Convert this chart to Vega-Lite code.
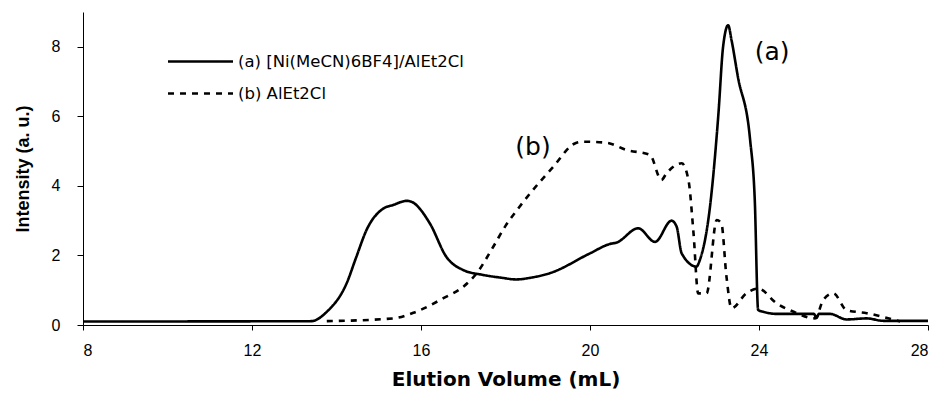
{
  "$schema": "https://vega.github.io/schema/vega-lite/v6.json",
  "width": 845,
  "height": 313,
  "autosize": {"type": "none"},
  "padding": {"left": 83, "top": 12, "right": 11, "bottom": 70},
  "background": "white",
  "config": {
    "view": {"stroke": null},
    "font": "Liberation Sans"
  },
  "datasets": {
    "curves": [
      {"v": 8.0, "i": 0.1, "s": "(a) [Ni(MeCN)6BF4]/AlEt2Cl"},
      {"v": 13.4, "i": 0.11, "s": "(a) [Ni(MeCN)6BF4]/AlEt2Cl"},
      {"v": 13.77, "i": 0.38, "s": "(a) [Ni(MeCN)6BF4]/AlEt2Cl"},
      {"v": 14.24, "i": 1.2, "s": "(a) [Ni(MeCN)6BF4]/AlEt2Cl"},
      {"v": 14.47, "i": 1.96, "s": "(a) [Ni(MeCN)6BF4]/AlEt2Cl"},
      {"v": 14.71, "i": 2.73, "s": "(a) [Ni(MeCN)6BF4]/AlEt2Cl"},
      {"v": 15.11, "i": 3.35, "s": "(a) [Ni(MeCN)6BF4]/AlEt2Cl"},
      {"v": 15.34, "i": 3.45, "s": "(a) [Ni(MeCN)6BF4]/AlEt2Cl"},
      {"v": 15.66, "i": 3.57, "s": "(a) [Ni(MeCN)6BF4]/AlEt2Cl"},
      {"v": 15.78, "i": 3.54, "s": "(a) [Ni(MeCN)6BF4]/AlEt2Cl"},
      {"v": 16.21, "i": 2.92, "s": "(a) [Ni(MeCN)6BF4]/AlEt2Cl"},
      {"v": 16.6, "i": 1.96, "s": "(a) [Ni(MeCN)6BF4]/AlEt2Cl"},
      {"v": 17.0, "i": 1.58, "s": "(a) [Ni(MeCN)6BF4]/AlEt2Cl"},
      {"v": 17.47, "i": 1.44, "s": "(a) [Ni(MeCN)6BF4]/AlEt2Cl"},
      {"v": 17.9, "i": 1.36, "s": "(a) [Ni(MeCN)6BF4]/AlEt2Cl"},
      {"v": 18.25, "i": 1.31, "s": "(a) [Ni(MeCN)6BF4]/AlEt2Cl"},
      {"v": 18.6, "i": 1.36, "s": "(a) [Ni(MeCN)6BF4]/AlEt2Cl"},
      {"v": 19.05, "i": 1.49, "s": "(a) [Ni(MeCN)6BF4]/AlEt2Cl"},
      {"v": 20.0, "i": 2.06, "s": "(a) [Ni(MeCN)6BF4]/AlEt2Cl"},
      {"v": 20.47, "i": 2.33, "s": "(a) [Ni(MeCN)6BF4]/AlEt2Cl"},
      {"v": 20.63, "i": 2.37, "s": "(a) [Ni(MeCN)6BF4]/AlEt2Cl"},
      {"v": 21.14, "i": 2.78, "s": "(a) [Ni(MeCN)6BF4]/AlEt2Cl"},
      {"v": 21.54, "i": 2.39, "s": "(a) [Ni(MeCN)6BF4]/AlEt2Cl"},
      {"v": 21.93, "i": 3.0, "s": "(a) [Ni(MeCN)6BF4]/AlEt2Cl"},
      {"v": 22.05, "i": 2.83, "s": "(a) [Ni(MeCN)6BF4]/AlEt2Cl"},
      {"v": 22.17, "i": 2.06, "s": "(a) [Ni(MeCN)6BF4]/AlEt2Cl"},
      {"v": 22.52, "i": 1.68, "s": "(a) [Ni(MeCN)6BF4]/AlEt2Cl"},
      {"v": 22.6, "i": 1.87, "s": "(a) [Ni(MeCN)6BF4]/AlEt2Cl"},
      {"v": 22.84, "i": 3.4, "s": "(a) [Ni(MeCN)6BF4]/AlEt2Cl"},
      {"v": 23.04, "i": 6.08, "s": "(a) [Ni(MeCN)6BF4]/AlEt2Cl"},
      {"v": 23.15, "i": 8.0, "s": "(a) [Ni(MeCN)6BF4]/AlEt2Cl"},
      {"v": 23.27, "i": 8.62, "s": "(a) [Ni(MeCN)6BF4]/AlEt2Cl"},
      {"v": 23.35, "i": 8.19, "s": "(a) [Ni(MeCN)6BF4]/AlEt2Cl"},
      {"v": 23.5, "i": 7.14, "s": "(a) [Ni(MeCN)6BF4]/AlEt2Cl"},
      {"v": 23.79, "i": 5.32, "s": "(a) [Ni(MeCN)6BF4]/AlEt2Cl"},
      {"v": 23.9, "i": 3.59, "s": "(a) [Ni(MeCN)6BF4]/AlEt2Cl"},
      {"v": 23.98, "i": 0.43, "s": "(a) [Ni(MeCN)6BF4]/AlEt2Cl"},
      {"v": 24.1, "i": 0.38, "s": "(a) [Ni(MeCN)6BF4]/AlEt2Cl"},
      {"v": 24.42, "i": 0.32, "s": "(a) [Ni(MeCN)6BF4]/AlEt2Cl"},
      {"v": 25.3, "i": 0.32, "s": "(a) [Ni(MeCN)6BF4]/AlEt2Cl"},
      {"v": 25.36, "i": 0.2, "s": "(a) [Ni(MeCN)6BF4]/AlEt2Cl"},
      {"v": 25.42, "i": 0.32, "s": "(a) [Ni(MeCN)6BF4]/AlEt2Cl"},
      {"v": 25.68, "i": 0.32, "s": "(a) [Ni(MeCN)6BF4]/AlEt2Cl"},
      {"v": 26.07, "i": 0.16, "s": "(a) [Ni(MeCN)6BF4]/AlEt2Cl"},
      {"v": 26.55, "i": 0.19, "s": "(a) [Ni(MeCN)6BF4]/AlEt2Cl"},
      {"v": 26.94, "i": 0.12, "s": "(a) [Ni(MeCN)6BF4]/AlEt2Cl"},
      {"v": 28.0, "i": 0.12, "s": "(a) [Ni(MeCN)6BF4]/AlEt2Cl"},
      {"v": 13.77, "i": 0.11, "s": "(b) AlEt2Cl"},
      {"v": 15.34, "i": 0.19, "s": "(b) AlEt2Cl"},
      {"v": 15.82, "i": 0.35, "s": "(b) AlEt2Cl"},
      {"v": 16.53, "i": 0.77, "s": "(b) AlEt2Cl"},
      {"v": 17.0, "i": 1.1, "s": "(b) AlEt2Cl"},
      {"v": 17.32, "i": 1.49, "s": "(b) AlEt2Cl"},
      {"v": 17.71, "i": 2.25, "s": "(b) AlEt2Cl"},
      {"v": 18.0, "i": 2.85, "s": "(b) AlEt2Cl"},
      {"v": 18.3, "i": 3.35, "s": "(b) AlEt2Cl"},
      {"v": 18.58, "i": 3.78, "s": "(b) AlEt2Cl"},
      {"v": 19.13, "i": 4.55, "s": "(b) AlEt2Cl"},
      {"v": 19.64, "i": 5.22, "s": "(b) AlEt2Cl"},
      {"v": 19.84, "i": 5.27, "s": "(b) AlEt2Cl"},
      {"v": 20.39, "i": 5.24, "s": "(b) AlEt2Cl"},
      {"v": 20.87, "i": 5.03, "s": "(b) AlEt2Cl"},
      {"v": 21.42, "i": 4.89, "s": "(b) AlEt2Cl"},
      {"v": 21.69, "i": 4.17, "s": "(b) AlEt2Cl"},
      {"v": 21.81, "i": 4.36, "s": "(b) AlEt2Cl"},
      {"v": 22.17, "i": 4.65, "s": "(b) AlEt2Cl"},
      {"v": 22.33, "i": 4.17, "s": "(b) AlEt2Cl"},
      {"v": 22.45, "i": 2.64, "s": "(b) AlEt2Cl"},
      {"v": 22.56, "i": 0.91, "s": "(b) AlEt2Cl"},
      {"v": 22.76, "i": 0.91, "s": "(b) AlEt2Cl"},
      {"v": 23.0, "i": 3.02, "s": "(b) AlEt2Cl"},
      {"v": 23.11, "i": 2.92, "s": "(b) AlEt2Cl"},
      {"v": 23.23, "i": 1.39, "s": "(b) AlEt2Cl"},
      {"v": 23.35, "i": 0.48, "s": "(b) AlEt2Cl"},
      {"v": 23.7, "i": 0.91, "s": "(b) AlEt2Cl"},
      {"v": 23.98, "i": 1.05, "s": "(b) AlEt2Cl"},
      {"v": 24.42, "i": 0.62, "s": "(b) AlEt2Cl"},
      {"v": 24.82, "i": 0.38, "s": "(b) AlEt2Cl"},
      {"v": 25.33, "i": 0.19, "s": "(b) AlEt2Cl"},
      {"v": 25.52, "i": 0.72, "s": "(b) AlEt2Cl"},
      {"v": 25.76, "i": 0.91, "s": "(b) AlEt2Cl"},
      {"v": 26.07, "i": 0.43, "s": "(b) AlEt2Cl"},
      {"v": 26.55, "i": 0.34, "s": "(b) AlEt2Cl"},
      {"v": 27.34, "i": 0.1, "s": "(b) AlEt2Cl"}
    ],
    "labels": [
      {"v": 24.31, "i": 7.84, "t": "(a)"},
      {"v": 18.65, "i": 5.11, "t": "(b)"}
    ]
  },
  "layer": [
    {
      "data": {"name": "curves"},
      "mark": {"type": "line", "color": "black", "strokeWidth": 2.6, "interpolate": "monotone"},
      "encoding": {
        "x": {
          "field": "v", "type": "quantitative",
          "scale": {"domain": [8, 28], "nice": false, "zero": false},
          "axis": {
            "title": "Elution Volume (mL)", "values": [8, 12, 16, 20, 24, 28],
            "grid": false, "domainColor": "black", "tickColor": "black", "tickSize": 5,
            "labelFontSize": 16, "labelColor": "black", "labelPadding": 12,
            "titleFont": "DejaVu Sans", "titleFontSize": 20, "titleFontWeight": "bold", "titleColor": "black", "titlePadding": 11
          }
        },
        "y": {
          "field": "i", "type": "quantitative",
          "scale": {"domain": [0, 9], "nice": false},
          "axis": {
            "title": "Intensity (a. u.)", "values": [0, 2, 4, 6, 8],
            "grid": false, "domainColor": "black", "tickColor": "black", "tickSize": 6,
            "labelFontSize": 16, "labelColor": "black", "labelPadding": 17,
            "titleFontSize": 18, "titleFontWeight": "bold", "titleColor": "black", "titlePadding": 19
          }
        },
        "strokeDash": {
          "field": "s", "type": "nominal",
          "scale": {"domain": ["(a) [Ni(MeCN)6BF4]/AlEt2Cl", "(b) AlEt2Cl"], "range": [[1, 0], [6, 6]]},
          "legend": {
            "title": null, "orient": "none", "legendX": 108, "legendY": 40,
            "symbolType": "M-4,0H4", "symbolSize": 264, "symbolStrokeWidth": 2.6,
            "symbolStrokeColor": "black", "labelFont": "DejaVu Sans", "labelFontSize": 16.5, "labelColor": "black",
            "labelLimit": 500, "rowPadding": 14, "labelOffset": 28
          }
        }
      }
    },
    {
      "data": {"name": "labels"},
      "mark": {"type": "text", "font": "DejaVu Sans", "fontSize": 25, "color": "black", "align": "center", "baseline": "middle"},
      "encoding": {
        "x": {"field": "v", "type": "quantitative"},
        "y": {"field": "i", "type": "quantitative"},
        "text": {"field": "t"}
      }
    }
  ]
}
